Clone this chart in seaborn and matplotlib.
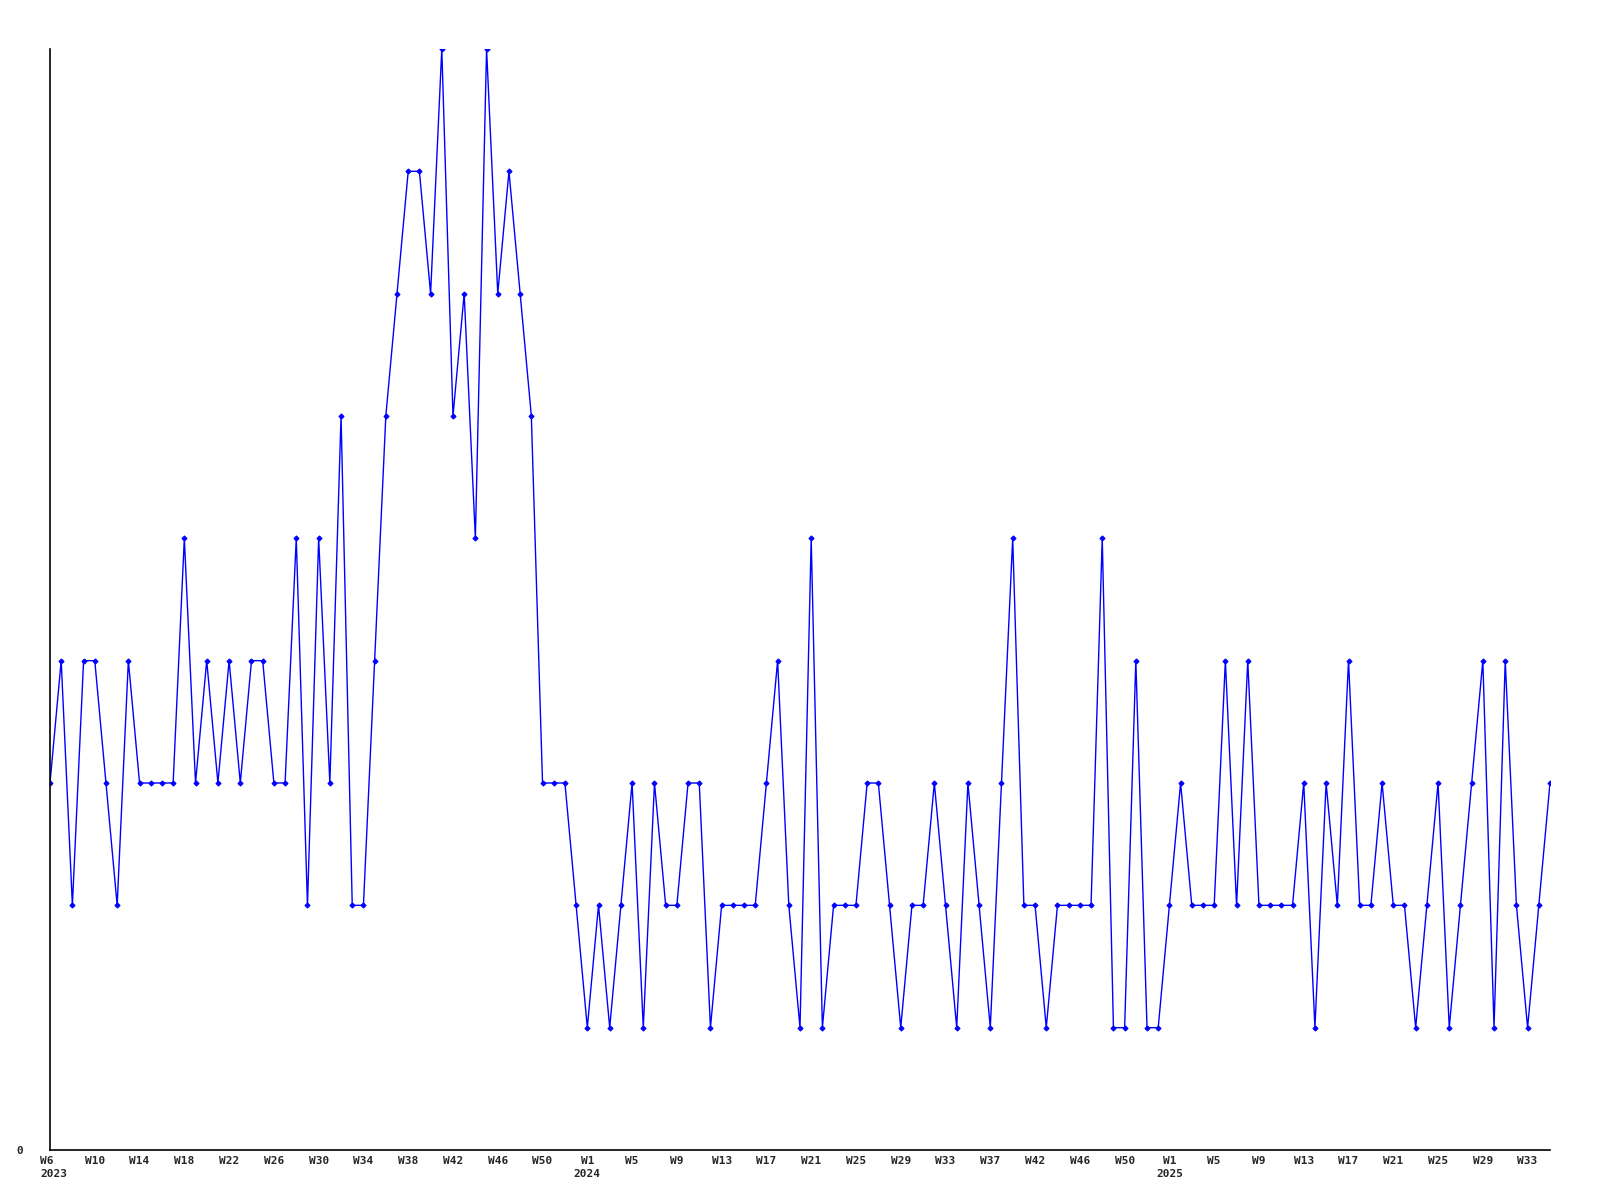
import matplotlib
matplotlib.use("Agg")
import matplotlib.pyplot as plt
import matplotlib.transforms as mtransforms
import seaborn as sns
import pandas as pd

# weekly values, 2023 W6 .. 2025 W35
values_2023a = [3, 4, 2, 4, 4, 3, 2, 4, 3, 3, 3, 3, 5, 3, 4, 3, 4, 3, 4, 4, 3, 3, 5, 2, 5, 3, 6, 2]
values_2023b = [2, 4, 6, 7, 8, 8, 7, 9, 6, 7, 5, 9, 7, 8, 7, 6, 3, 3, 3, 2, 1, 2, 1, 2, 3, 1, 3]
values_2024a = [2, 2, 3, 3, 1, 2, 2, 2, 2, 3, 4, 2, 1, 5, 1, 2, 2, 2, 3, 3, 2, 1, 2, 2, 3, 2, 1]
values_2024b = [3, 2, 1, 3, 5, 2, 2, 1, 2, 2, 2, 2, 5, 1, 1, 4, 1, 1, 2, 3, 2, 2, 2, 4, 2, 4, 2]
values_2025 = [2, 2, 2, 3, 1, 3, 2, 4, 2, 2, 3, 2, 2, 1, 2, 3, 1, 2, 3, 4, 1, 4, 2, 1, 2, 3]

values = values_2023a + values_2023b + values_2024a + values_2024b + values_2025

# tick labels (every 4th week point)
tick_labels = [
    "W6\n2023", "W10", "W14", "W18", "W22", "W26", "W30", "W34", "W38", "W42", "W46", "W50",
    "W1\n2024", "W5", "W9", "W13", "W17", "W21", "W25", "W29", "W33", "W37", "W42", "W46", "W50",
    "W1\n2025", "W5", "W9", "W13", "W17", "W21", "W25", "W29", "W33",
]

df = pd.DataFrame({"idx": range(len(values)), "value": values})

sns.set_style("white")
plt.rcParams["font.family"] = ["DejaVu Sans Mono"]

fig = plt.figure(figsize=(16, 12), dpi=100)
ax = fig.add_axes([50 / 1600, 1 - 1150 / 1200, 1500 / 1600, 1101 / 1200])

sns.lineplot(data=df, x="idx", y="value", ax=ax, color="#0000ff", linewidth=1.0,
             marker="D", markersize=2.6, markeredgecolor="#0000ff", markerfacecolor="#0000ff")

ax.set_xlim(0, len(values) - 1)
ax.set_ylim(0, 9)

ax.set_xticks(list(range(0, len(values), 4))[:len(tick_labels)])
ax.set_xticklabels(tick_labels, fontsize=8, fontweight="bold", linespacing=1.4, va="top")
ax.set_yticks([0])
ax.set_yticklabels(["0"], fontsize=8, fontweight="bold")
ax.tick_params(axis="both", length=0)
ax.tick_params(axis="x", pad=4)
ax.tick_params(axis="y", pad=19)

first = ax.get_xticklabels()[0]
first.set_ha("left")
first.set_transform(first.get_transform() +
                    mtransforms.ScaledTranslation(-10 / 100, 0, fig.dpi_scale_trans))

ax.set_xlabel("")
ax.set_ylabel("")
for side in ["top", "right"]:
    ax.spines[side].set_visible(False)
for side in ["left", "bottom"]:
    ax.spines[side].set_color("black")
    ax.spines[side].set_linewidth(1.2)
ax.grid(False)

fig.savefig("out.png", dpi=100, facecolor="white")
